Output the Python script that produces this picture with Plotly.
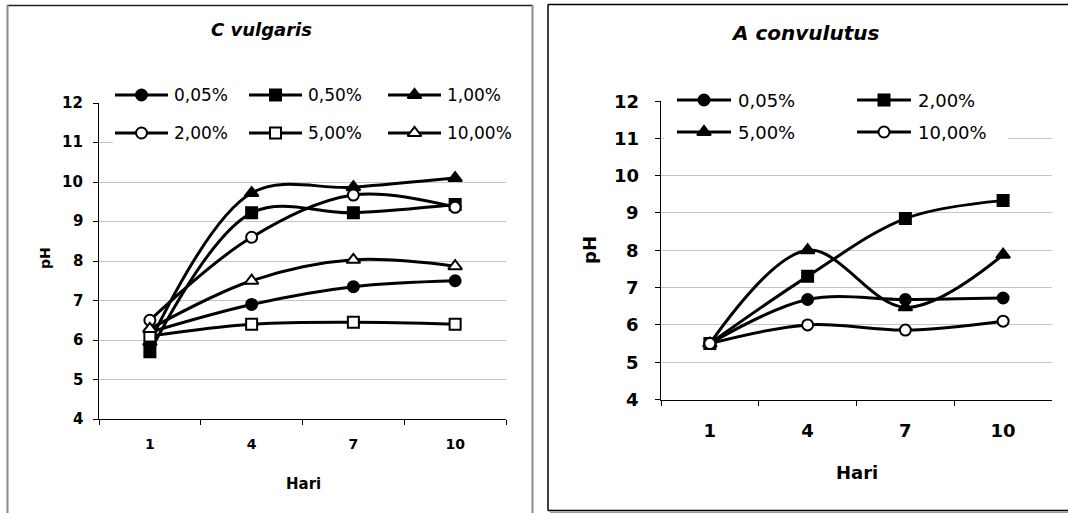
import plotly.graph_objects as go

# ---- data -------------------------------------------------------------
days = ["1", "4", "7", "10"]

# C vulgaris: pH by concentration
cv_labels = ["0,05%", "0,50%", "1,00%", "2,00%", "5,00%", "10,00%"]
cv_005 = [6.2, 6.9, 7.35, 7.5]
cv_050 = [5.7, 9.22, 9.22, 9.43]
cv_100 = [5.95, 9.72, 9.87, 10.1]
cv_200 = [6.5, 8.6, 9.67, 9.36]
cv_500 = [6.1, 6.4, 6.45, 6.4]
cv_1000 = [6.28, 7.5, 8.03, 7.87]

# A convulutus: pH by concentration
ac_labels = ["0,05%", "2,00%", "5,00%", "10,00%"]
ac_005 = [5.5, 6.68, 6.68, 6.72]
ac_200 = [5.5, 7.3, 8.85, 9.33]
ac_500 = [5.5, 8.0, 6.47, 7.88]
ac_1000 = [5.5, 6.0, 5.86, 6.1]

y_ticks = [4, 5, 6, 7, 8, 9, 10, 11, 12]

# ---- layout constants (pixels) ----------------------------------------
W, H = 1068, 513
FONT = "DejaVu Sans"


def px(x):
    return x / W


def py(y):
    return 1 - y / H


cv_series = [cv_005, cv_050, cv_100, cv_200, cv_500, cv_1000]
cv_styles = [("circle", "black"), ("square", "black"), ("triangle-up", "black"),
             ("circle", "white"), ("square", "white"), ("triangle-up", "white")]
ac_series = [ac_005, ac_200, ac_500, ac_1000]
ac_styles = [("circle", "black"), ("square", "black"), ("triangle-up", "black"),
             ("circle", "white")]

fig = go.Figure()


def msize(sym):
    return 12 if sym.startswith("triangle") else 11


# data curves
for vals, (sym, fillc), name in zip(cv_series, cv_styles, cv_labels):
    fig.add_trace(go.Scatter(
        x=days, y=vals, name=name, mode="lines+markers",
        line=dict(color="black", width=3, shape="spline", smoothing=1),
        marker=dict(symbol=sym, size=msize(sym), color=fillc,
                    line=dict(color="black", width=2)),
        xaxis="x", yaxis="y", showlegend=False))

for vals, (sym, fillc), name in zip(ac_series, ac_styles, ac_labels):
    fig.add_trace(go.Scatter(
        x=days, y=vals, name=name, mode="lines+markers",
        line=dict(color="black", width=3, shape="spline", smoothing=1),
        marker=dict(symbol=sym, size=msize(sym), color=fillc,
                    line=dict(color="black", width=2)),
        xaxis="x2", yaxis="y2", showlegend=False))

# ---- hand-built legends on a pixel overlay ----------------------------
annotations = []


def legend_box(x0, x1, y0, y1):
    fig.add_trace(go.Scatter(
        x=[x0, x1, x1, x0, x0], y=[y0, y0, y1, y1, y0], mode="lines",
        fill="toself", fillcolor="white", line=dict(width=0),
        xaxis="x3", yaxis="y3", showlegend=False, hoverinfo="skip"))


def legend_entry(xl, y, seg, sym, fillc, text, fsize, gap):
    fig.add_trace(go.Scatter(
        x=[xl, xl + seg], y=[y, y], mode="lines",
        line=dict(color="black", width=3),
        xaxis="x3", yaxis="y3", showlegend=False, hoverinfo="skip"))
    fig.add_trace(go.Scatter(
        x=[xl + seg / 2], y=[y], mode="markers",
        marker=dict(symbol=sym, size=msize(sym), color=fillc,
                    line=dict(color="black", width=2)),
        xaxis="x3", yaxis="y3", showlegend=False, hoverinfo="skip"))
    annotations.append(dict(
        x=px(xl + seg + gap), y=py(y), xref="paper", yref="paper",
        text=text, showarrow=False, xanchor="left", yanchor="middle",
        font=dict(family=FONT, size=fsize, color="black")))


legend_box(113, 530, 84, 150)
cv_cols = [115, 249, 388]
cv_rows = [95, 133]
for i, (name, (sym, fillc)) in enumerate(zip(cv_labels, cv_styles)):
    legend_entry(cv_cols[i % 3], cv_rows[i // 3], 53, sym, fillc, name, 17, 4)

legend_box(664, 1008, 86, 148)
ac_cols = [677, 857]
ac_rows = [100, 132]
for i, (name, (sym, fillc)) in enumerate(zip(ac_labels, ac_styles)):
    legend_entry(ac_cols[i % 2], ac_rows[i // 2], 54, sym, fillc, name, 18, 5)


# ---- titles -----------------------------------------------------------
def label(x, y, text, size, italic=False, angle=0):
    annotations.append(dict(
        x=px(x), y=py(y), xref="paper", yref="paper",
        text="<b>%s</b>" % (("<i>%s</i>" % text) if italic else text),
        showarrow=False, xanchor="center", yanchor="middle", textangle=angle,
        font=dict(family=FONT, size=size, color="black")))


label(261, 29, "C vulgaris", 18, italic=True)
label(805, 33, "A convulutus", 20, italic=True)
label(303, 484, "Hari", 15)
label(857, 472, "Hari", 18)
label(45, 258, "pH", 14, angle=-90)
label(589, 250, "pH", 18, angle=-90)


# bold value labels beside each y axis, placed on the axis scale
def y_tick_labels(yref, x_right, size):
    for v in y_ticks:
        annotations.append(dict(
            x=px(x_right), y=v, xref="paper", yref=yref,
            text="<b>%d</b>" % v, showarrow=False,
            xanchor="right", yanchor="middle",
            font=dict(family=FONT, size=size, color="black")))


y_tick_labels("y", 85, 15)
y_tick_labels("y2", 641, 18)

# ---- panel frames -----------------------------------------------------
shapes = [
    dict(type="line", xref="paper", yref="paper", x0=px(7), x1=px(533),
         y0=py(5.5), y1=py(5.5), line=dict(color="#202020", width=1.5)),
    dict(type="line", xref="paper", yref="paper", x0=px(7.5), x1=px(7.5),
         y0=py(5), y1=py(513), line=dict(color="#8a8a8a", width=2)),
    dict(type="line", xref="paper", yref="paper", x0=px(532.5), x1=px(532.5),
         y0=py(5), y1=py(513), line=dict(color="#8a8a8a", width=2)),
    dict(type="line", xref="paper", yref="paper", x0=px(548), x1=px(548),
         y0=py(4.5), y1=py(510.5), line=dict(color="black", width=1.5)),
    dict(type="line", xref="paper", yref="paper", x0=px(548), x1=px(1068),
         y0=py(4.5), y1=py(4.5), line=dict(color="black", width=1.5)),
    dict(type="line", xref="paper", yref="paper", x0=px(548), x1=px(1068),
         y0=py(510.5), y1=py(510.5), line=dict(color="black", width=1.5)),
    dict(type="line", xref="paper", yref="paper", x0=px(550), x1=px(1068),
         y0=py(512.3), y1=py(512.3), line=dict(color="#9a9a9a", width=1.5)),
]


def yaxis_cfg(domain):
    return dict(
        domain=domain, range=[4, 12], tickvals=y_ticks,
        showticklabels=False, automargin=False,
        showgrid=True, gridcolor="#c4c4c4", gridwidth=1, zeroline=False,
        showline=True, linecolor="black", linewidth=1,
        ticks="outside", ticklen=5, tickcolor="black", tickwidth=1)


def xaxis_cfg(domain, anchor, fsize, standoff):
    return dict(
        domain=domain, anchor=anchor, type="category", range=[-0.5, 3.5],
        tickvals=days, ticktext=["<b>%s</b>" % d for d in days],
        automargin=False,
        tickson="boundaries", ticks="outside", ticklen=5, tickcolor="black",
        tickwidth=1, showgrid=False, zeroline=False,
        showline=True, linecolor="black", linewidth=1,
        ticklabelstandoff=standoff,
        tickfont=dict(family=FONT, size=fsize, color="black"))


fig.update_layout(
    width=W, height=H,
    margin=dict(l=0, r=0, t=0, b=0, pad=0, autoexpand=False),
    paper_bgcolor="white", plot_bgcolor="rgba(0,0,0,0)",
    showlegend=False,
    xaxis=xaxis_cfg([px(99), px(506)], "y", 14, 12),
    yaxis=yaxis_cfg([py(419), py(103)]),
    xaxis2=xaxis_cfg([px(661), px(1052)], "y2", 18, 15),
    yaxis2=dict(yaxis_cfg([py(399.5), py(101)]), anchor="x2"),
    xaxis3=dict(domain=[0, 1], range=[0, W], visible=False, anchor="y3",
                fixedrange=True, automargin=False),
    yaxis3=dict(domain=[0, 1], range=[H, 0], visible=False, anchor="x3",
                fixedrange=True, automargin=False),
    annotations=annotations,
    shapes=shapes,
)

fig.write_html("out.html")
